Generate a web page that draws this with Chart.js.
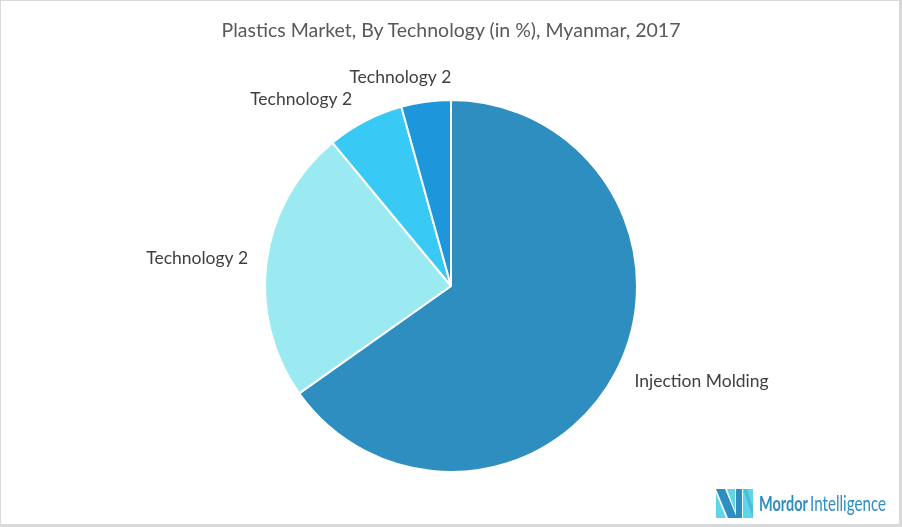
<!DOCTYPE html>
<html>
<head>
<meta charset="utf-8">
<script src="https://cdn.jsdelivr.net/npm/chart.js@4.4.1/dist/chart.umd.min.js"></script>
<style>
  html, body { margin: 0; padding: 0; background: #fff; }
  body { position: relative; width: 902px; height: 527px; overflow: hidden; font-family: Lato, "Open Sans", sans-serif; }
  #frame {
    position: absolute; left: 0; top: 0; width: 898px; height: 523px;
    border-left: 1px solid #d9d9d9; border-top: 1px solid #d9d9d9;
    border-right: 3px solid #d9d9d9; border-bottom: 3px solid #d9d9d9;
  }
  #title {
    position: absolute; left: 0; top: 18px; width: 902px; text-align: center;
    font-size: 19.5px; color: #595959;
  }
  #pie { position: absolute; left: 0; top: 0; }
  #logo { position: absolute; left: 714px; top: 486px; }
</style>
</head>
<body>
<div id="frame"></div>
<canvas id="pie" width="902" height="527"></canvas>
<div id="title">Plastics Market, By Technology (in %), Myanmar, 2017</div>
<svg id="logo" width="180" height="36" viewBox="0 0 180 36">
  <polygon points="2,3 11,3 23,32 14,32" fill="#2e8ec0"/>
  <polygon points="2,7 2,32 12,32" fill="#5fd6e8"/>
  <polygon points="13,3 21,3 21,25" fill="#5fd6e8"/>
  <polygon points="22,3 28,3 28,32 22,32" fill="#2e8ec0"/>
  <polygon points="29,3 39,3 39,32 29,32" fill="#5fd6e8"/>
  <polygon points="29,3 33,3 39,22 39,32" fill="#2e8ec0" opacity="0.35"/>
  <text x="45" y="25" font-family="Liberation Sans Narrow, Lato, sans-serif" font-size="21" font-weight="bold" fill="#2e8ec0" textLength="49" lengthAdjust="spacingAndGlyphs">Mordor</text>
  <text x="96" y="25" font-family="Liberation Sans Narrow, Lato, sans-serif" font-size="21" fill="#2e8ec0" textLength="76" lengthAdjust="spacingAndGlyphs">Intelligence</text>
</svg>
<script>
// slice data (clockwise from 12 o'clock)
const labels = ['Injection Molding', 'Technology 2', 'Technology 2', 'Technology 2'];
const shares = [65.2, 23.8, 6.7, 4.3];
const colors = ['#2e8ec0', '#9beaf2', '#38c9f5', '#1e96dc'];
// small label nudges (px) from the arc-derived anchor, like Excel's best fit
const labelNudge = [[8, -3], [1, 1], [-31, 4], [-16, 4]];

const outLabels = {
  id: 'outLabels',
  afterDatasetsDraw(chart) {
    const ctx = chart.ctx;
    const meta = chart.getDatasetMeta(0);
    ctx.save();
    ctx.font = '17.5px Lato, "Open Sans", sans-serif';
    ctx.fillStyle = '#404040';
    ctx.textBaseline = 'middle';
    ctx.textAlign = 'center';
    meta.data.forEach((arc, i) => {
      const p = arc.getProps(['x', 'y', 'startAngle', 'endAngle', 'outerRadius'], true);
      const mid = (p.startAngle + p.endAngle) / 2;
      const r = p.outerRadius + 20;
      const ax = p.x + Math.cos(mid) * r;
      const ay = p.y + Math.sin(mid) * r;
      const w = ctx.measureText(labels[i]).width;
      const cx = ax + Math.cos(mid) * w / 2 + labelNudge[i][0];
      const cy = ay + Math.sin(mid) * 9 + labelNudge[i][1];
      ctx.fillText(labels[i], cx, cy);
    });
    ctx.restore();
  }
};

new Chart(document.getElementById('pie'), {
  type: 'pie',
  data: {
    labels: labels,
    datasets: [{
      data: shares,
      backgroundColor: colors,
      borderColor: '#ffffff',
      borderWidth: 2
    }]
  },
  options: {
    responsive: false,
    animation: false,
    layout: { padding: { top: 99, bottom: 54, left: 0, right: 0 } },
    plugins: {
      legend: { display: false },
      tooltip: { enabled: false },
      title: { display: false }
    }
  },
  plugins: [outLabels]
});
</script>
</body>
</html>
